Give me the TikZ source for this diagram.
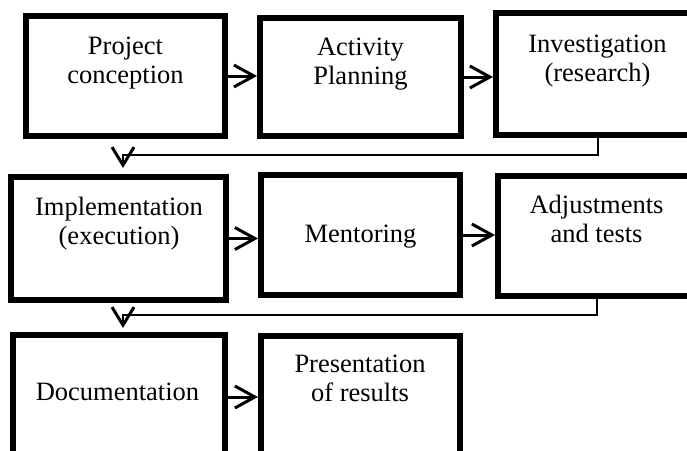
\documentclass[tikz,border=0pt]{standalone}
\usepackage{fontspec}
\setmainfont{Liberation Serif}
\usetikzlibrary{arrows.meta}

\tikzset{
  box/.style={draw=black, line width=6pt, fill=white},
  lbl/.style={anchor=north, inner sep=0pt, align=center,
              font=\fontsize{26.5}{29}\selectfont},
  flow/.style={line width=3pt, -{Straight Barb[length=20pt,width=22pt]}},
  link/.style={line width=2pt, -{Straight Barb[length=18pt,width=22pt,line width=3pt]}},
}

\begin{document}
\begin{tikzpicture}[x=1pt, y=-1pt]
  \useasboundingbox (0,0) rectangle (687,450);
  \clip (0,0) rectangle (687,450);

  % first row of steps
  \node[box, minimum width=199pt, minimum height=120pt] (b1) at (125.5,76) {};
  \node[box, minimum width=201pt, minimum height=118pt] (b2) at (360.5,77) {};
  \node[box, minimum width=204pt, minimum height=122pt] (b3) at (598,74) {};

  % second row of steps
  \node[box, minimum width=215pt, minimum height=123pt] (b4) at (118.5,238.5) {};
  \node[box, minimum width=199pt, minimum height=120pt] (b5) at (360.5,235) {};
  \node[box, minimum width=197pt, minimum height=120pt] (b6) at (596.5,236) {};

  % third row of steps
  \node[box, minimum width=212pt, minimum height=124pt] (b7) at (119,397) {};
  \node[box, minimum width=199pt, minimum height=122pt] (b8) at (360.5,397) {};

  % step labels
  \node[lbl] (t1) at (125.5,33.7) {\strut Project\\conception};
  \node[lbl] (t2) at (360.5,34.7) {\strut Activity\\Planning};
  \node[lbl] (t3) at (597.5,31.7) {\strut Investigation\\(research)};
  \node[lbl] (t4) at (119,194.7) {\strut Implementation\\(execution)};
  \node[lbl] (t5) at (360.5,221.7) {\strut Mentoring};
  \node[lbl] (t6) at (596.5,192.7) {\strut Adjustments\\and tests};
  \node[lbl] (t7) at (117.5,379.7) {\strut Documentation};
  \node[lbl] (t8) at (360,351.7) {\strut Presentation\\of results};

  % arrows within each row
  \draw[flow] (b1.east) -- (b2.west |- b1.east);
  \draw[flow] (b2.east) -- (b3.west |- b2.east);
  \draw[flow] (b4.east) -- (b5.west |- b4.east);
  \draw[flow] (b5.east) -- (b6.west |- b5.east);
  \draw[flow] (b7.east) -- (b8.west |- b7.east);

  % return lines from the end of a row to the start of the next
  \coordinate (k1) at (123,155);
  \coordinate (d1) at (123,168);
  \coordinate (k2) at (123,315);
  \coordinate (d2) at (123,328);
  \draw[link] (b3.south) |- (k1) -- (d1);
  \draw[link] (b6.south) |- (k2) -- (d2);
\end{tikzpicture}
\end{document}
